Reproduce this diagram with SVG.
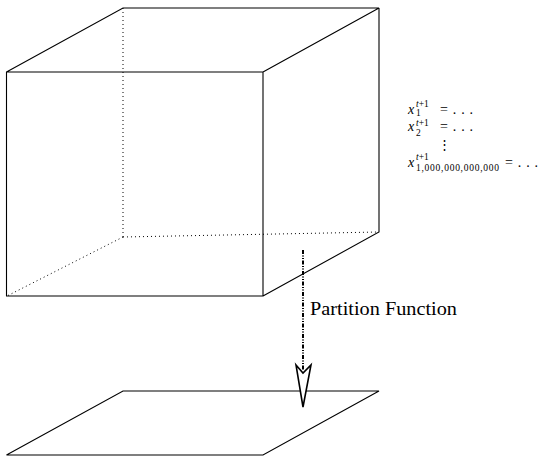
<svg xmlns="http://www.w3.org/2000/svg" width="540" height="456" viewBox="0 0 540 456">
<style>
.s{stroke:#000;stroke-width:1.1;fill:none}
.d{stroke:#000;stroke-width:1;fill:none;stroke-dasharray:1 3}
.i{font-style:italic}
.sc{font-size:9.5px}
</style>
<rect width="540" height="456" fill="#fff"/>
<g id="cube">
<path class="d" d="M123,8 V237 M123,237 L379,232 M123,237 L7,296"/>
<path class="s" d="M6.5,72 H263 V296 H6.5 Z M6.5,72 L123,8 H379 L263,72 M379,8 V232 L263,296"/>
</g>
<g id="plane">
<path class="s" d="M123,391 H379 L263,455 H6.5 Z"/>
</g>
<g id="equations">
<text font-family="'Liberation Serif','DejaVu Serif',serif" font-size="14" fill="#000"><tspan class="i" x="408" y="114">x</tspan><tspan class="i sc" x="416" y="107">t</tspan><tspan class="sc">+1</tspan><tspan class="sc" x="416" y="115.5">1</tspan><tspan x="440" y="114" textLength="33">= . . .</tspan><tspan class="i" x="408" y="131">x</tspan><tspan class="i sc" x="416" y="126">t</tspan><tspan class="sc">+1</tspan><tspan class="sc" x="416" y="136">2</tspan><tspan x="440" y="131" textLength="33">= . . .</tspan><tspan x="438" y="149" font-size="13">⋮</tspan><tspan class="i" x="408" y="167">x</tspan><tspan class="i sc" x="416" y="160">t</tspan><tspan class="sc">+1</tspan><tspan class="sc" x="416" y="171" textLength="83">1,000,000,000,000</tspan><tspan x="505" y="167" textLength="33">= . . .</tspan></text>
</g>
<g id="connectors">
<path d="M303,250 V370" stroke="#000" stroke-width="2" fill="none" stroke-dasharray="4 1.5 1 1.5 1 1.5"/>
<path d="M296,365 L303,373 L311,365 L303,407 Z" stroke="#000" stroke-width="1.6" fill="#fff" stroke-linejoin="miter"/>
<text x="310" y="315" font-size="18" font-family="'Liberation Serif','DejaVu Serif',serif" textLength="147" lengthAdjust="spacingAndGlyphs">Partition Function</text>
</g>
</svg>
